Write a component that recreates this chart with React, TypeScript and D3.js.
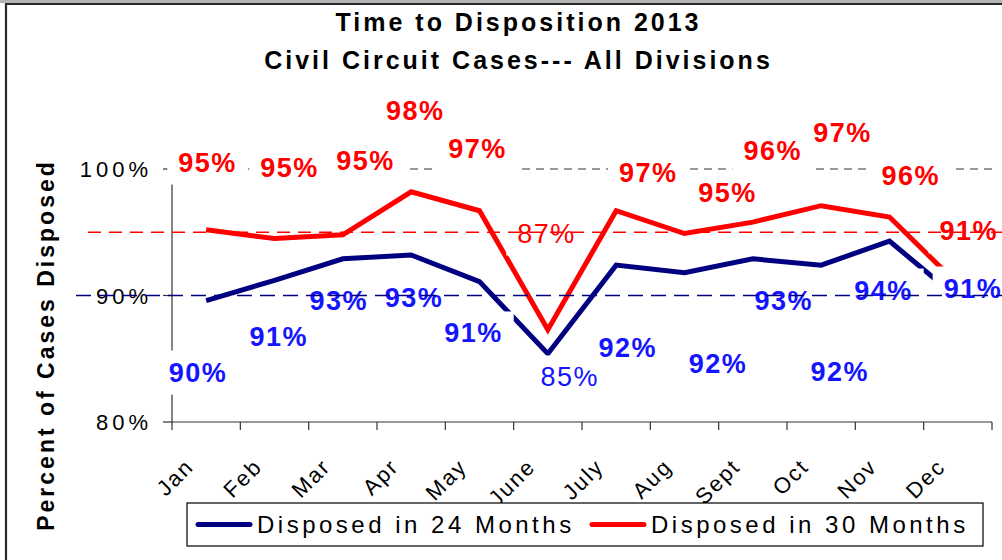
import React, { useEffect, useRef } from 'react';
import * as d3 from 'd3';

const months = ['Jan', 'Feb', 'Mar', 'Apr', 'May', 'June', 'July', 'Aug', 'Sept', 'Oct', 'Nov', 'Dec'];
const disposed24 = [89.6, 91.2, 92.9, 93.2, 91.1, 85.4, 92.4, 91.8, 92.9, 92.4, 94.3, 89.8];
const disposed30 = [95.2, 94.5, 94.8, 98.2, 96.7, 87.3, 96.7, 94.9, 95.8, 97.1, 96.2, 90.9];
const labels24 = ['90%', '91%', '93%', '93%', '91%', '85%', '92%', '92%', '93%', '92%', '94%', '91%'];
const labels30 = ['95%', '95%', '95%', '98%', '97%', '87%', '97%', '95%', '96%', '97%', '96%', '91%'];
// where each data label sits: fractional month index and value level (%)
const label24At = [-0.13, 1.05, 1.93, 3.03, 3.9, 5.31, 6.16, 7.48, 8.44, 9.26, 9.9, 11.21];
const label24Level = [83.95, 86.72, 89.64, 89.88, 87.04, 83.56, 85.85, 84.66, 89.64, 84.03, 90.43, 90.59];
const label30At = [0.01, 1.21, 2.32, 3.05, 3.96, 4.97, 6.46, 7.62, 8.28, 9.3, 10.3, 11.15];
const label30Level = [100.55, 100.08, 100.71, 104.66, 101.66, 94.94, 99.76, 98.18, 101.5, 102.92, 99.45, 95.1];
const plainLabelMonths = ['June'];
const yTicks = [80, 90, 100];
const yTickLabels = ['80%', '90%', '100%'];
const gridLevel = 100;
const target24 = 90;
const target30 = 95;
const seriesNames = ['Disposed in 24 Months', 'Disposed in 30 Months'];
const titleLines = ['Time to Disposition 2013', 'Civil Circuit Cases--- All Divisions'];
const yTitle = 'Percent of Cases Disposed';

const NAVY = '#000080';
const RED = '#ff0000';
const BLUE_TXT = '#1414ff';
const FONT = '"Liberation Sans", Arial, Helvetica, sans-serif';

export default function App() {
  const ref = useRef<SVGSVGElement>(null);

  useEffect(() => {
    const svg = d3.select(ref.current);
    svg.selectAll('*').remove();
    const W = 1002, H = 560;
    const left = 172, right = 992, top = 169, bottom = 422;

    const x = d3.scaleBand<string>().domain(months).range([left, right]).padding(0);
    const xi = d3.scaleLinear().domain([-0.5, months.length - 0.5]).range([left, right]);
    const y = d3.scaleLinear().domain([80, 100]).range([bottom, top]);
    const cx = (m: string) => (x(m) ?? 0) + x.bandwidth() / 2;

    svg.append('rect').attr('x', 0).attr('y', 0).attr('width', W).attr('height', H).attr('fill', '#fff');
    // frame
    svg.append('rect').attr('x', 0).attr('y', 0).attr('width', W).attr('height', 3).attr('fill', '#b4b4b4');
    svg.append('path').attr('d', `M6,${H + 10} V4 H${W + 10}`).attr('fill', 'none')
      .attr('stroke', '#2a2a2a').attr('stroke-width', 2.2);

    // title
    titleLines.forEach((t, i) => {
      svg.append('text').attr('x', 517 + 1.5).attr('y', 31 + i * 38)
        .attr('text-anchor', 'middle').attr('font-family', FONT).attr('font-weight', 'bold')
        .attr('font-size', 25).attr('letter-spacing', 3).attr('fill', '#000').text(t);
    });

    // gridline at 100%
    svg.append('line').attr('x1', left).attr('x2', right).attr('y1', y(gridLevel)).attr('y2', y(gridLevel))
      .attr('stroke', '#333').attr('stroke-width', 1).attr('stroke-dasharray', '8,6');

    // y axis
    svg.append('line').attr('x1', left).attr('x2', left).attr('y1', top).attr('y2', bottom)
      .attr('stroke', '#333').attr('stroke-width', 1.2);
    yTicks.forEach((v, i) => {
      svg.append('line').attr('x1', left - 9).attr('x2', left).attr('y1', y(v)).attr('y2', y(v))
        .attr('stroke', '#333').attr('stroke-width', 1.2);
      svg.append('text').attr('x', 148 + 4).attr('y', y(v) + 8)
        .attr('text-anchor', 'end').attr('font-family', FONT).attr('font-size', 22)
        .attr('letter-spacing', 4).attr('fill', '#000').text(yTickLabels[i]);
    });

    // x axis
    svg.append('line').attr('x1', left).attr('x2', right).attr('y1', bottom).attr('y2', bottom)
      .attr('stroke', '#333').attr('stroke-width', 1.2);
    d3.range(months.length + 1).forEach((i) => {
      const xx = xi(i - 0.5);
      svg.append('line').attr('x1', xx).attr('x2', xx).attr('y1', bottom).attr('y2', bottom + 8)
        .attr('stroke', '#333').attr('stroke-width', 1.2);
    });
    months.forEach((m) => {
      svg.append('text').attr('transform', `translate(${cx(m) - 11},${bottom + 46}) rotate(-45)`)
        .attr('text-anchor', 'end').attr('font-family', FONT).attr('font-size', 22)
        .attr('letter-spacing', 2).attr('fill', '#000').text(m);
    });

    // y title
    svg.append('text').attr('transform', `translate(54,345) rotate(-90)`)
      .attr('text-anchor', 'middle').attr('font-family', FONT).attr('font-weight', 'bold')
      .attr('font-size', 23).attr('letter-spacing', 3).attr('fill', '#000').text(yTitle);

    // data lines
    const line = d3.line<number>().x((_, i) => cx(months[i])).y((d) => y(d));
    svg.append('path').datum(disposed24).attr('d', line).attr('fill', 'none')
      .attr('stroke', NAVY).attr('stroke-width', 5).attr('stroke-linejoin', 'miter');
    svg.append('path').datum(disposed30).attr('d', line).attr('fill', 'none')
      .attr('stroke', RED).attr('stroke-width', 5).attr('stroke-linejoin', 'miter');

    // data labels with white boxes
    const drawLabels = (labels: string[], at: number[], level: number[], color: string) => {
      labels.forEach((t, i) => {
        const g = svg.append('g');
        const rect = g.append('rect').attr('fill', '#fff');
        const plain = plainLabelMonths.includes(months[i]);
        const txt = g.append('text').attr('x', xi(at[i]) + 0.75).attr('y', y(level[i]) + 9.5)
          .attr('text-anchor', 'middle').attr('font-family', FONT)
          .attr('font-weight', plain ? 'normal' : 'bold')
          .attr('font-size', 27).attr('letter-spacing', 1.5).attr('fill', color).text(t);
        const bb = (txt.node() as SVGTextElement).getBBox();
        rect.attr('x', bb.x - 11).attr('y', bb.y - 7).attr('width', bb.width + 22).attr('height', bb.height + 14);
      });
    };
    drawLabels(labels30, label30At, label30Level, RED);
    drawLabels(labels24, label24At, label24Level, BLUE_TXT);

    // target lines
    svg.append('line').attr('x1', 88).attr('x2', W).attr('y1', y(target30)).attr('y2', y(target30))
      .attr('stroke', RED).attr('stroke-width', 1.6).attr('stroke-dasharray', '13,8');
    svg.append('line').attr('x1', 76).attr('x2', W).attr('y1', y(target24)).attr('y2', y(target24))
      .attr('stroke', NAVY).attr('stroke-width', 1.6).attr('stroke-dasharray', '15,8');

    // legend
    svg.append('rect').attr('x', 187).attr('y', 503).attr('width', 796).attr('height', 43)
      .attr('fill', '#fff').attr('stroke', '#000').attr('stroke-width', 1.2);
    const legendItems = [
      { name: seriesNames[0], color: NAVY, x0: 198 },
      { name: seriesNames[1], color: RED, x0: 592 },
    ];
    legendItems.forEach((it) => {
      svg.append('line').attr('x1', it.x0).attr('x2', it.x0 + 52).attr('y1', 524.5).attr('y2', 524.5)
        .attr('stroke', it.color).attr('stroke-width', 5).attr('stroke-linecap', 'round');
      svg.append('text').attr('x', it.x0 + 59).attr('y', 533).attr('font-family', FONT)
        .attr('font-size', 24).attr('letter-spacing', 3.5).attr('fill', '#000').text(it.name);
    });
  }, []);

  return (
    <svg ref={ref} width={1002} height={560} viewBox="0 0 1002 560"
      style={{ position: 'absolute', left: 0, top: 0, display: 'block' }} />
  );
}
